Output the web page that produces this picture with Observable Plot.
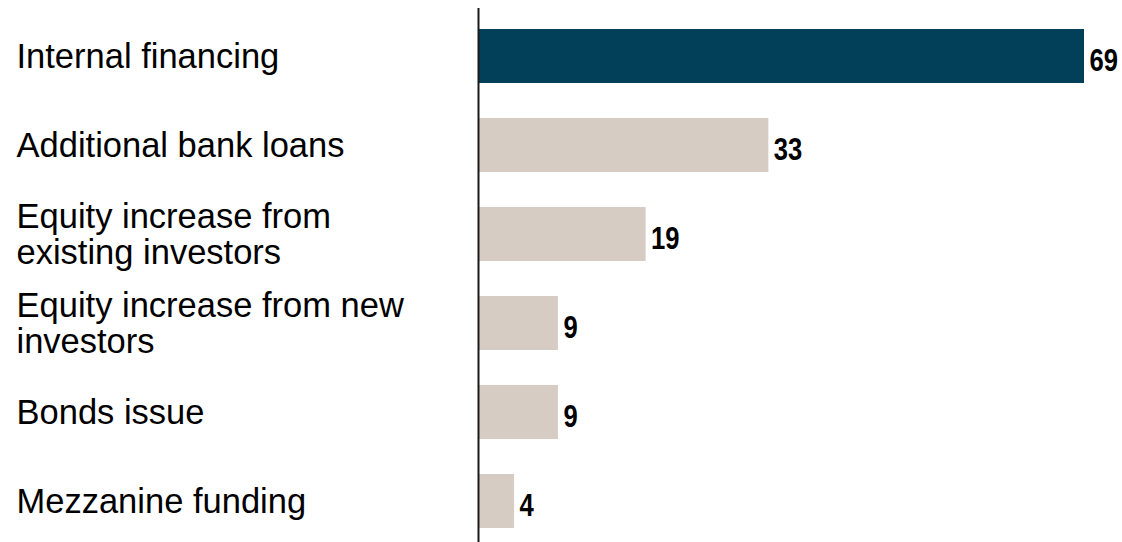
<!DOCTYPE html>
<html>
<head>
<meta charset="utf-8">
<script src="https://cdn.jsdelivr.net/npm/d3@7"></script>
<script src="https://cdn.jsdelivr.net/npm/@observablehq/plot@0.6"></script>
<style>
  html, body { margin: 0; padding: 0; background: #fff; }
  #chart svg { display: block; }
</style>
</head>
<body>
<div id="chart"></div>
<script>
// Financing sources and share of respondents
const categories = [
  "Internal financing",
  "Additional bank loans",
  "Equity increase from\nexisting investors",
  "Equity increase from new\ninvestors",
  "Bonds issue",
  "Mezzanine funding"
];
const values = [69, 33, 19, 9, 9, 4];
const highlighted = ["Internal financing"];

const data = categories.map((c, i) => ({category: c, value: values[i]}));

const colorDark = "#023f58";
const colorLight = "#d6ccc3";

const chart = Plot.plot({
  width: 1122,
  height: 542,
  marginTop: 8,
  marginBottom: 0,
  marginLeft: 479,
  marginRight: 38,
  style: {background: "#fff"},
  x: {domain: [0, 69], axis: null},
  y: {domain: categories, axis: null, paddingInner: 0.388, paddingOuter: 0.167, align: 0.6},
  marks: [
    Plot.barX(data, {
      x: "value",
      y: "category",
      fill: d => highlighted.includes(d.category) ? colorDark : colorLight
    }),
    Plot.ruleX([0], {stroke: "#1a1a1a", strokeWidth: 2, dx: -1}),
    Plot.text(data, {
      x: "value",
      y: "category",
      text: d => String(d.value),
      textAnchor: "start",
      dx: 5,
      dy: 4,
      fontSize: 32,
      fontWeight: "bold",
      fontFamily: "'Liberation Sans Narrow', 'Arial Narrow', 'Liberation Sans', Arial, sans-serif",
      fill: "#000",
      className: "value-label"
    }),
    Plot.text(data, {
      y: "category",
      text: "category",
      frameAnchor: "left",
      textAnchor: "start",
      lineAnchor: "middle",
      lineHeight: 1.05,
      dx: 16 - 479,
      fontSize: 34.5,
      fontFamily: "'Liberation Sans', Arial, sans-serif",
      fill: "#000"
    })
  ]
});

// Condense the value labels horizontally (narrow bold figures)
d3.select(chart).selectAll(".value-label text").each(function() {
  const t = this.getAttribute("transform") || "";
  this.setAttribute("transform", (t + " scale(0.8,1)").trim());
});

document.getElementById("chart").appendChild(chart);
</script>
</body>
</html>
